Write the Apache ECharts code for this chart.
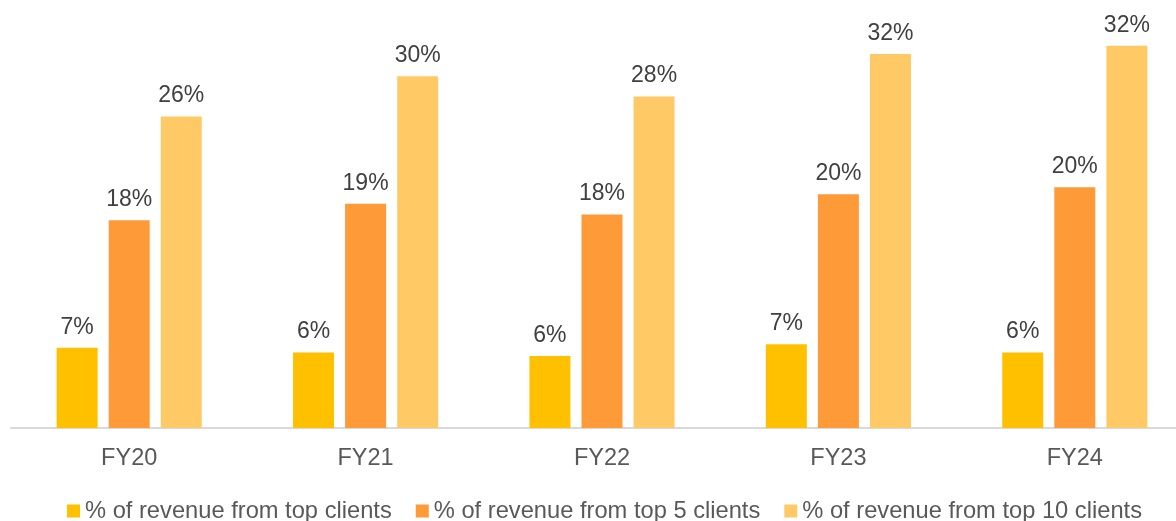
<!DOCTYPE html>
<html>
<head>
<meta charset="utf-8">
<script src="https://cdn.jsdelivr.net/npm/echarts@6/dist/echarts.min.js"></script>
<style>
  html, body { margin: 0; padding: 0; background: #fff; }
  #chart { width: 1176px; height: 521px; }
</style>
</head>
<body>
<div id="chart"></div>
<script>
// 年度
const years = ['FY20', 'FY21', 'FY22', 'FY23', 'FY24']
// 各系列数值 (%)
const topClient = [6.8, 6.4, 6.1, 7.1, 6.4]
const top5Clients = [17.6, 19.0, 18.1, 19.8, 20.4]
const top10Clients = [26.4, 29.8, 28.1, 31.7, 32.4]
const seriesNames = ['% of revenue from top clients', '% of revenue from top 5 clients', '% of revenue from top 10 clients']
const colors = ['#FFC000', '#FF9A38', '#FFCA66']

const font = 'Liberation Sans, Arial, sans-serif'

function makeSeries(name, data, color) {
  return {
    name: name,
    type: 'bar',
    barWidth: 41,
    barGap: '27%',
    data: data,
    itemStyle: { color: color },
    label: {
      show: true,
      position: 'top',
      distance: 9,
      color: '#404040',
      fontSize: 23,
      fontFamily: font,
      formatter: p => Math.round(p.value) + '%'
    }
  }
}

const chart = echarts.init(document.getElementById('chart'))
chart.setOption({
  animation: false,
  color: colors,
  grid: { left: 11, right: -17, top: 15, bottom: 93, outerBoundsMode: 'none', containLabel: false },
  legend: {
    data: seriesNames,
    left: 62,
    top: 494,
    itemWidth: 13,
    itemHeight: 13,
    itemGap: 24,
    icon: 'rect',
    textStyle: { color: '#595959', fontSize: 23.7, fontFamily: font }
  },
  xAxis: {
    type: 'category',
    data: years,
    axisLine: { lineStyle: { color: '#D9D9D9', width: 2 } },
    axisTick: { show: false },
    axisLabel: { color: '#595959', fontSize: 23.5, fontFamily: font, margin: 19 }
  },
  yAxis: {
    type: 'value',
    min: 0,
    max: 35,
    show: false,
    splitLine: { show: false }
  },
  series: [
    makeSeries(seriesNames[0], topClient, colors[0]),
    makeSeries(seriesNames[1], top5Clients, colors[1]),
    makeSeries(seriesNames[2], top10Clients, colors[2])
  ]
})
</script>
</body>
</html>
